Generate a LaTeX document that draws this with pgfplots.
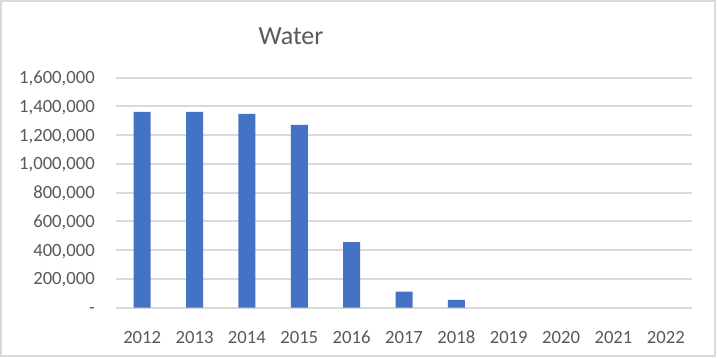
\documentclass[border=0pt]{standalone}
\usepackage{pgfplots}
\pgfplotsset{compat=1.18}
\usepackage{fontspec}
\setmainfont{Carlito}
\definecolor{barblue}{HTML}{4472C4}
\definecolor{gridgray}{HTML}{D9D9D9}
\definecolor{txtgray}{HTML}{595959}
\begin{document}
\begin{tikzpicture}[x=0.75pt,y=0.75pt]
\useasboundingbox (0,0) rectangle (717,357);
\fill[white] (0,0) rectangle (717,357);
\draw[gridgray, line width=1.5pt] (0.8,1.5) rectangle (715,356.2);
\node[anchor=base, text=txtgray, font=\fontsize{19.5pt}{22pt}\selectfont] at (291,312) {Water};
\begin{axis}[
  at={(116*0.75pt,49.3*0.75pt)}, anchor=south west,
  scale only axis, width=432pt, height=172.5pt,
  xmin=-0.5, xmax=10.5, ymin=0, ymax=1600000,
  scaled y ticks=false,
  axis line style={draw=none},
  tick style={draw=none},
  ymajorgrids, grid style={gridgray, line width=1.5pt},
  axis on top=false,
  xtick={0,...,10},
  xticklabels={2012,2013,2014,2015,2016,2017,2018,2019,2020,2021,2022},
  ytick={0,200000,400000,600000,800000,1000000,1200000,1400000,1600000},
  yticklabels={{-\hspace{10.5pt}},{200,000},{400,000},{600,000},{800,000},{1,000,000},{1,200,000},{1,400,000},{1,600,000}},
  xticklabel style={text=txtgray, font=\fontsize{14pt}{16pt}\selectfont, anchor=north, inner sep=0pt, text height=9pt, text depth=0pt, yshift=-13.75pt},
  yticklabel style={text=txtgray, font=\fontsize{14pt}{16pt}\selectfont, anchor=east, inner sep=0pt, text height=9pt, text depth=0pt, xshift=-15.75pt},
  ybar, bar width=12.75pt,
  clip=false,
]
\draw[gridgray, line width=1.5pt] (axis cs:-0.5,0) -- (axis cs:10.5,0);
% 2019-2022 are zero and draw no bar
\addplot[fill=barblue, draw=none] coordinates {
  (0,1362000) (1,1362000) (2,1348000) (3,1271000) (4,457000) (5,111000) (6,54000)
};
\end{axis}
\end{tikzpicture}
\end{document}
